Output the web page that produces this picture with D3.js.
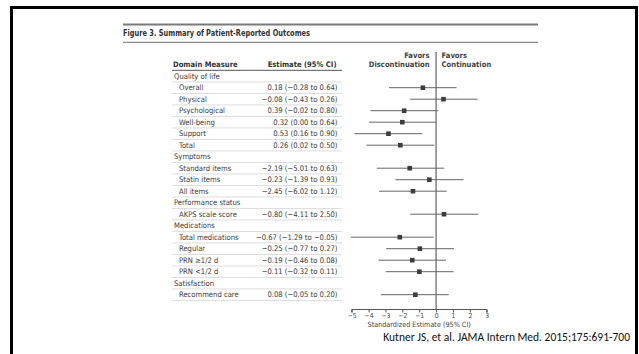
<!DOCTYPE html>
<html><head><meta charset="utf-8">
<script src="https://cdn.jsdelivr.net/npm/d3@7"></script>
<style>
body{margin:0;background:#fff;}
svg{display:block;}
</style></head>
<body>
<svg id="c" width="639" height="354"></svg>
<script>
const rowLabels = ["Quality of life","Overall","Physical","Psychological","Well-being","Support","Total",
  "Symptoms","Standard items","Statin items","All items",
  "Performance status","AKPS scale score",
  "Medications","Total medications","Regular","PRN \u22651/2 d","PRN <1/2 d",
  "Satisfaction","Recommend care"];
const rowIsGroup = [1,0,0,0,0,0,0, 1,0,0,0, 1,0, 1,0,0,0,0, 1,0];
const estimateText = ["","0.18 (\u22120.28 to 0.64)","\u22120.08 (\u22120.43 to 0.26)","0.39 (\u22120.02 to 0.80)","0.32 (0.00 to 0.64)","0.53 (0.16 to 0.90)","0.26 (0.02 to 0.50)",
  "","\u22122.19 (\u22125.01 to 0.63)","\u22120.23 (\u22121.39 to 0.93)","\u22122.45 (\u22126.02 to 1.12)",
  "","\u22120.80 (\u22124.11 to 2.50)",
  "","\u22120.67 (\u22121.29 to \u22120.05)","\u22120.25 (\u22120.77 to 0.27)","\u22120.19 (\u22120.46 to 0.08)","\u22120.11 (\u22120.32 to 0.11)",
  "","0.08 (\u22120.05 to 0.20)"];
// standardized estimates as plotted
const plotEst = [null,-0.78,0.44,-1.89,-2.0,-2.82,-2.12, null,-1.56,-0.4,-1.37, null,0.47, null,-2.15,-0.96,-1.41,-0.99, null,-1.23];
const plotLo  = [null,-2.79,-1.54,-3.89,-3.97,-4.84,-4.13, null,-3.51,-2.41,-3.38, null,-1.53, null,-5.05,-2.96,-3.42,-2.98, null,-3.28];
const plotHi  = [null,1.22,2.46,0.13,0.0,-0.82,-0.1, null,0.49,1.63,0.63, null,2.5, null,-0.14,1.06,0.59,1.04, null,0.75];
const xTicks = [-5,-4,-3,-2,-1,0,1,2,3];

const svg = d3.select("#c");
const FONT = "'Liberation Sans Narrow','DejaVu Sans Condensed','Liberation Sans',sans-serif";

// frame
svg.append("path").attr("d","M11.5,360 V7.5 H636.5 V360")
  .attr("fill","none").attr("stroke","#000").attr("stroke-width",3);

// title rules
svg.append("line").attr("x1",123).attr("x2",538).attr("y1",24.5).attr("y2",24.5).attr("stroke","#7a7a7a").attr("stroke-width",2.2);
svg.append("line").attr("x1",123).attr("x2",538).attr("y1",42.3).attr("y2",42.3).attr("stroke","#8a8a8a").attr("stroke-width",1.2);
svg.append("text").attr("x",123).attr("y",35.5).attr("font-family",FONT).attr("font-size",8.2)
  .attr("font-weight","bold").attr("fill","#333").attr("textLength",187).attr("lengthAdjust","spacingAndGlyphs")
  .text("Figure 3. Summary of Patient-Reported Outcomes");

const idx = d3.range(rowLabels.length);
const y = d3.scaleLinear().domain([0, rowLabels.length-1]).range([76.2, 294.7]);
const x = d3.scaleLinear().domain([-5,3]).range([351.7, 486.7]);

// table headers
svg.append("text").attr("x",173).attr("y",66.5).attr("font-family",FONT).attr("font-size",7.6)
  .attr("font-weight","bold").attr("fill","#333").text("Domain Measure");
svg.append("text").attr("x",336.5).attr("y",66.5).attr("text-anchor","end").attr("font-family",FONT).attr("font-size",7.6)
  .attr("font-weight","bold").attr("fill","#333").text("Estimate (95% CI)");
svg.append("line").attr("x1",172).attr("x2",342).attr("y1",70.3).attr("y2",70.3).attr("stroke","#555").attr("stroke-width",1);

// row separators
svg.append("g").selectAll("line").data(idx).join("line")
  .attr("x1",172).attr("x2",342)
  .attr("y1",i=>y(i)+5.75).attr("y2",i=>y(i)+5.75)
  .attr("stroke","#dcdcdc").attr("stroke-width",1);

// row labels
svg.append("g").selectAll("text").data(idx).join("text")
  .attr("x",i=>rowIsGroup[i]?174:179).attr("y",i=>y(i)+2.7)
  .attr("font-family",FONT).attr("font-size",7.6).attr("fill","#3a3a3a")
  .text(i=>rowLabels[i]);
svg.append("g").selectAll("text").data(idx.filter(i=>estimateText[i])).join("text")
  .attr("x",337.5).attr("y",i=>y(i)+2.7).attr("text-anchor","end")
  .attr("font-family",FONT).attr("font-size",7.6).attr("fill","#3a3a3a")
  .text(i=>estimateText[i]);

// favors labels
const fav = svg.append("g").attr("font-family",FONT).attr("font-size",7.6).attr("font-weight","bold").attr("fill","#444");
fav.append("text").attr("x",x(0)-6.5).attr("y",57.5).attr("text-anchor","end").text("Favors");
fav.append("text").attr("x",x(0)-6.5).attr("y",66.8).attr("text-anchor","end").text("Discontinuation");
fav.append("text").attr("x",x(0)+5.5).attr("y",57.5).text("Favors");
fav.append("text").attr("x",x(0)+5.5).attr("y",66.8).text("Continuation");

// zero line
svg.append("line").attr("x1",x(0)).attr("x2",x(0)).attr("y1",52).attr("y2",309.5)
  .attr("stroke","#555").attr("stroke-width",1.1);

// CI lines and markers
const pts = idx.filter(i=>plotEst[i]!==null);
svg.append("g").selectAll("line").data(pts).join("line")
  .attr("x1",i=>x(plotLo[i])).attr("x2",i=>x(plotHi[i]))
  .attr("y1",i=>y(i)).attr("y2",i=>y(i))
  .attr("stroke","#666").attr("stroke-width",1);
svg.append("g").selectAll("rect").data(pts).join("rect")
  .attr("x",i=>x(plotEst[i])-2.3).attr("y",i=>y(i)-2.3)
  .attr("width",4.6).attr("height",4.6).attr("fill","#3d3d3d");

// axis
const axis = d3.axisBottom(x).tickValues(xTicks).tickSize(3).tickFormat(d=>d<0?"\u2212"+Math.abs(d):d);
const ag = svg.append("g").attr("transform","translate(0,309.5)").call(axis);
ag.select(".domain").attr("stroke","#555").attr("d",`M${x(-5)},3V0H${x(3)}V3`);
ag.selectAll(".tick line").attr("stroke","#555");
ag.selectAll(".tick text").attr("font-family",FONT).attr("font-size",6.8).attr("fill","#444").attr("dy","0.6em").attr("y",4);
svg.append("text").attr("x",(x(-5)+x(3))/2).attr("y",327).attr("text-anchor","middle")
  .attr("font-family",FONT).attr("font-size",7.2).attr("fill","#444").text("Standardized Estimate (95% CI)");

// source caption (scaled horizontally to the reference width)
const capG = svg.append("g");
const cap = capG.append("text").attr("x",0).attr("y",0).attr("text-anchor","end")
  .attr("font-family","Carlito,Lato,'Open Sans',sans-serif").attr("font-size",12.5).attr("fill","#111")
  .text("Kutner JS, et al. JAMA Intern Med. 2015;175:691-700");
const capW = cap.node().getComputedTextLength();
const sx = Math.min(1, 247 / capW);
capG.attr("transform",`translate(630,340.5) scale(${sx},1)`);
</script>
</body></html>
